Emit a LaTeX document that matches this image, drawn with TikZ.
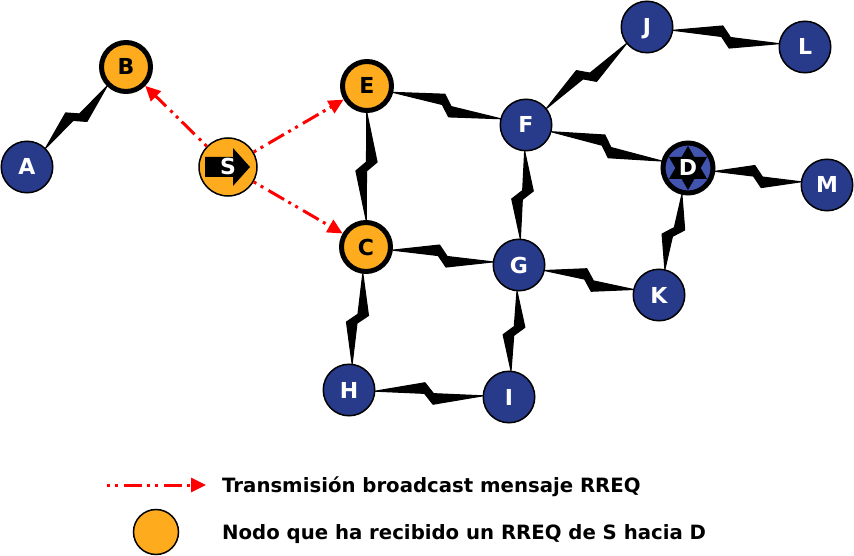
\documentclass[tikz,border=0pt]{standalone}
\usepackage{fontspec}
\setmainfont{DejaVu Sans}
\usetikzlibrary{calc,arrows.meta}
\definecolor{nblue}{RGB}{40,58,138}
\definecolor{dblue}{RGB}{64,84,176}
\definecolor{norange}{RGB}{254,172,29}
\definecolor{rred}{RGB}{255,0,0}
\tikzset{
  lbl/.style={font=\fontsize{22}{24}\selectfont\bfseries, text height=16pt, text depth=0pt, inner sep=0pt},
  bnode/.style={circle, lbl, fill=nblue, draw=black, line width=1.5pt, minimum size=51.5pt, text=white},
  onode/.style={circle, lbl, fill=norange, draw=black, line width=5pt, minimum size=49pt, text=black},
  snode/.style={circle, lbl, fill=norange, draw=black, line width=1.5pt, minimum size=58pt, text=white,
    path picture={\fill[black]
      ($(path picture bounding box.center)+(-23pt,-10pt)$) --
      ($(path picture bounding box.center)+(5pt,-10pt)$) --
      ($(path picture bounding box.center)+(5pt,-19pt)$) --
      ($(path picture bounding box.center)+(22pt,0pt)$) --
      ($(path picture bounding box.center)+(5pt,19pt)$) --
      ($(path picture bounding box.center)+(5pt,10pt)$) --
      ($(path picture bounding box.center)+(-23pt,10pt)$) -- cycle;}},
  dnode/.style={circle, lbl, fill=dblue, draw=black, line width=5pt, minimum size=50pt, text=white,
    path picture={\fill[black]
      ($(path picture bounding box.center)+(90:22pt)$) --
      ($(path picture bounding box.center)+(210:22pt)$) --
      ($(path picture bounding box.center)+(330:22pt)$) -- cycle;
      \fill[black]
      ($(path picture bounding box.center)+(270:22pt)$) --
      ($(path picture bounding box.center)+(30:22pt)$) --
      ($(path picture bounding box.center)+(150:22pt)$) -- cycle;}},
  rreq/.style={draw=rred, line width=3pt,
    dash pattern=on 3pt off 5pt on 3pt off 6pt on 18pt off 5pt,
    -{Triangle[length=15pt,width=14pt]}},
  legtext/.style={font=\fontsize{19.7}{22}\selectfont\bfseries, inner sep=0pt, anchor=base west},
  legcirc/.style={circle, fill=norange, draw=black, line width=1.5pt, minimum size=45pt},
  boltshape/.style={fill=black, draw=black, line width=1.2pt, line join=round},
}
\newcommand{\boltlink}[2]{%
  \path (#1) -- (#2) coordinate[pos=0] (bP) coordinate[pos=1] (bQ);
  \path[boltshape]
    (bP) -- ($(bP)!0.5!(bQ)!4.5pt!(bP)!10.5pt!-90:(bP)$)
    -- ($(bP)!0.5!(bQ)!4.5pt!(bQ)$)
    -- (bQ)
    -- ($(bP)!0.5!(bQ)!4.5pt!(bQ)!10.5pt!-90:(bQ)$)
    -- ($(bP)!0.5!(bQ)!4.5pt!(bP)$)
    -- cycle;}
\begin{document}
\begin{tikzpicture}[x=1pt,y=-1pt]
\useasboundingbox (0,0) rectangle (854,556);
% nodes
\node[bnode] (A) at (27,167) {A};
\node[onode] (B) at (126,67) {B};
\node[snode] (S) at (228,167) {S};
\node[onode] (E) at (367,86) {E};
\node[onode] (C) at (366,247) {C};
\node[bnode] (F) at (526,125) {F};
\node[bnode] (J) at (647,27) {J};
\node[bnode] (L) at (805,47) {L};
\node[dnode] (D) at (688,168) {D};
\node[bnode] (M) at (827,185) {M};
\node[bnode] (G) at (519,265) {G};
\node[bnode] (K) at (659,295) {K};
\node[bnode] (H) at (349,390) {H};
\node[bnode] (I) at (509,397) {I};
% wireless links
\boltlink{A}{B}
\boltlink{E}{F}
\boltlink{E}{C}
\boltlink{F}{J}
\boltlink{J}{L}
\boltlink{F}{D}
\boltlink{D}{M}
\boltlink{F}{G}
\boltlink{C}{G}
\boltlink{G}{K}
\boltlink{D}{K}
\boltlink{C}{H}
\boltlink{G}{I}
\boltlink{H}{I}
% RREQ broadcast
\draw[rreq] (S) -- (B);
\draw[rreq] (S) -- (E);
\draw[rreq] (S) -- (C);
% legend
\coordinate (la) at (107,485);
\coordinate (lb) at (206,485);
\draw[rreq] (la) -- (lb);
\node[legtext] (lt1) at (222,492) {Transmisión broadcast mensaje RREQ};
\node[legcirc] (lc) at (156,532) {};
\node[legtext] (lt2) at (222,539) {Nodo que ha recibido un RREQ de S hacia D};
\end{tikzpicture}
\end{document}
